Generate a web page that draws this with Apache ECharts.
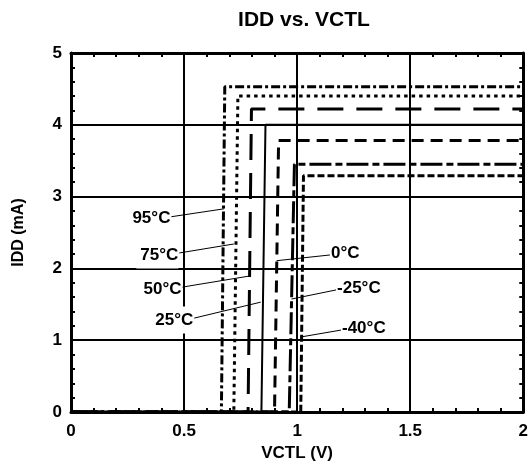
<!DOCTYPE html>
<html>
<head>
<meta charset="utf-8">
<script src="https://cdn.jsdelivr.net/npm/echarts@6/dist/echarts.min.js"></script>
<style>
  html, body { margin: 0; padding: 0; background: #fff; }
  #chart { width: 531px; height: 471px; }
</style>
</head>
<body>
<div id="chart"></div>
<script>
// IDD vs. VCTL, one step curve per temperature
var temps = ['95°C', '75°C', '50°C', '25°C', '0°C', '-25°C', '-40°C'];
var riseStart = [0.665, 0.72, 0.783, 0.842, 0.90, 0.965, 1.016];   // V where current starts rising
var riseEnd = [0.68, 0.738, 0.798, 0.86, 0.918, 0.988, 1.028];     // V where plateau is reached
var plateau = [4.53, 4.40, 4.22, 4.00, 3.78, 3.45, 3.29];          // mA
var xEnd = 2;

// leader lines: from label to the curve
var leadFromX = [0.444, 0.479, 0.493, 0.545, 1.145, 1.172, 1.194];
var leadFromY = [2.72, 2.215, 1.74, 1.308, 2.187, 1.70, 1.141];
var leadToX = [0.677, 0.72, 0.79, 0.839, 0.909, 0.975, 1.013];
var leadToY = [2.83, 2.34, 1.894, 1.53, 2.107, 1.573, 1.043];
var labelSide = ['left', 'left', 'left', 'left', 'right', 'right', 'right'];

var dashes = [[9, 3, 3, 3], [3.5, 4], [26, 13], 'solid', [12, 7], [22, 4, 7, 4], [7, 3]];
var widths = [3, 3, 3, 2, 3, 3, 3];

var FONT = 'Liberation Sans, Arial, sans-serif';

var chart = echarts.init(document.getElementById('chart'));

function axisBase(show) {
    return {
        type: 'value',
        axisLine: { show: true, onZero: false, lineStyle: { color: '#000', width: 3 } },
        axisTick: { show: true, inside: true, length: 5, lineStyle: { color: '#000', width: 2 } },
        minorTick: { show: true, splitNumber: 5, length: 4, lineStyle: { color: '#000', width: 2 } },
        splitLine: { show: show, lineStyle: { color: '#000', width: 2 } },
        axisLabel: { show: show, color: '#000', fontSize: 17, fontWeight: 'bold', fontFamily: FONT }
    };
}

var xBottom = axisBase(true);
xBottom.min = 0; xBottom.max = 2; xBottom.interval = 0.5;
xBottom.position = 'bottom';
xBottom.axisLabel.margin = 11;
xBottom.name = 'VCTL (V)';
xBottom.nameLocation = 'middle';
xBottom.nameGap = 32;
xBottom.nameTextStyle = { color: '#000', fontSize: 17, fontWeight: 'bold', fontFamily: FONT };

var xTop = axisBase(false);
xTop.min = 0; xTop.max = 2; xTop.interval = 0.5;
xTop.position = 'top';

var yLeft = axisBase(true);
yLeft.min = 0; yLeft.max = 5; yLeft.interval = 1;
yLeft.position = 'left';
yLeft.axisLabel.margin = 9;
yLeft.name = 'IDD (mA)';
yLeft.nameLocation = 'middle';
yLeft.nameGap = 44;
yLeft.nameTextStyle = { color: '#000', fontSize: 16, fontWeight: 'bold', fontFamily: FONT };

var yRight = axisBase(false);
yRight.min = 0; yRight.max = 5; yRight.interval = 1;
yRight.position = 'right';

var series = temps.map(function (t, i) {
    return {
        name: t,
        type: 'line',
        xAxisIndex: 0,
        yAxisIndex: 0,
        symbol: 'none',
        animation: false,
        z: 3,
        lineStyle: { color: '#000', width: widths[i], type: dashes[i], cap: 'butt' },
        data: [[0, 0], [riseStart[i], 0], [riseEnd[i], plateau[i]], [xEnd, plateau[i]]]
    };
});

chart.setOption({
    animation: false,
    title: {
        text: 'IDD vs. VCTL',
        left: 299,
        textAlign: 'center',
        top: 5,
        textStyle: { color: '#000', fontSize: 21, fontWeight: 'bold', fontFamily: FONT }
    },
    grid: { left: 71, right: 4, top: 53, bottom: 59 },
    xAxis: [xBottom, xTop],
    yAxis: [yLeft, yRight],
    series: series
});

// labels and leader lines, placed through the grid's scales
var graphics = [];
temps.forEach(function (t, i) {
    var p1 = chart.convertToPixel({ gridIndex: 0 }, [leadFromX[i], leadFromY[i]]);
    var p2 = chart.convertToPixel({ gridIndex: 0 }, [leadToX[i], leadToY[i]]);
    var left = labelSide[i] === 'left';
    graphics.push({
        type: 'text',
        z: 50,
        x: left ? p1[0] - 1 : p1[0] + 1,
        y: p1[1] + (left ? 2 : -2),
        style: {
            text: t,
            fill: '#000',
            font: 'bold 17px ' + FONT,
            align: left ? 'right' : 'left',
            verticalAlign: 'middle',
            backgroundColor: left ? '#fff' : null,
            padding: left ? [5, 0, 5, 4] : 0
        }
    });
    graphics.push({
        type: 'line',
        z: 60,
        shape: { x1: p1[0], y1: p1[1], x2: p2[0], y2: p2[1] },
        style: { stroke: '#000', lineWidth: 1 }
    });
});
chart.setOption({ graphic: graphics });
</script>
</body>
</html>
